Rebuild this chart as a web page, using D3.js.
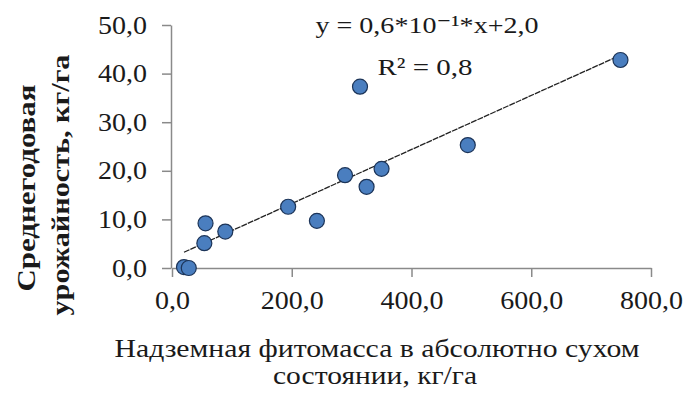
<!DOCTYPE html>
<html>
<head>
<meta charset="utf-8">
<script src="https://cdn.jsdelivr.net/npm/d3@7"></script>
<style>
  body { margin: 0; background: #fff; }
  text { font-family: "Liberation Serif", "DejaVu Serif", serif; fill: #1a1a1a; }
</style>
</head>
<body>
<div id="chart"></div>
<script>
// phytomass (kg/ha) vs average yield (kg/ha)
const phytomass = [20, 28, 54, 56, 89, 194, 242, 289, 314, 325, 350, 494, 749];
const yieldKg   = [0.2, 0.0, 5.1, 9.2, 7.5, 12.6, 9.7, 19.1, 37.3, 16.7, 20.4, 25.3, 42.8];
const xTicks = [0, 200, 400, 600, 800];
const yTicks = [0, 10, 20, 30, 40, 50];
const eqLine = "y = 0,6*10\u207B\u00B9*x+2,0";
const r2Line = "R\u00B2 = 0,8";
const xTitle = ["Надземная фитомасса в абсолютно сухом", "состоянии, кг/га"];
const yTitle = ["Среднегодовая", "урожайность, кг/га"];

const width = 686, height = 396;
const margin = {top: 25, right: 35, bottom: 128, left: 172};
const stretch = 1.12; // text in the picture is a bit wide

const svg = d3.select("#chart").append("svg")
  .attr("width", width)
  .attr("height", height);

const x = d3.scaleLinear().domain([0, 800]).range([margin.left, width - margin.right]);
const y = d3.scaleLinear().domain([0, 50]).range([height - margin.bottom, margin.top]);

const fmt = d3.formatLocale({decimal: ",", thousands: " ", grouping: [3], currency: ["", ""]}).format(".1f");

// x axis
const gx = svg.append("g")
  .attr("transform", `translate(0,${y(0)})`)
  .call(d3.axisBottom(x).tickValues(xTicks).tickFormat(fmt).tickSize(9).tickSizeOuter(0).tickPadding(14));

// y axis
const gy = svg.append("g")
  .attr("transform", `translate(${x(0) - 1},0)`)
  .call(d3.axisLeft(y).tickValues(yTicks).tickFormat(fmt).tickSize(9).tickSizeOuter(0).tickPadding(15));

[gx, gy].forEach(g => {
  g.select(".domain").attr("stroke", "#8a8a8a").attr("stroke-width", 1.5);
  g.selectAll(".tick line").attr("stroke", "#8a8a8a").attr("stroke-width", 1.5);
  g.selectAll(".tick text")
    .style("font-family", '"Liberation Serif", serif')
    .attr("font-size", 25)
    .attr("fill", "#1a1a1a");
});
gx.selectAll(".tick text").attr("transform", `scale(${stretch},1)`);
gy.selectAll(".tick text")
  .attr("x", -24 / stretch)
  .attr("transform", `scale(${stretch},1)`);

// linear trend from least squares
const mx = d3.mean(phytomass), my = d3.mean(yieldKg);
const slope = d3.sum(phytomass, (v, i) => (v - mx) * (yieldKg[i] - my)) /
              d3.sum(phytomass, v => (v - mx) * (v - mx));
const icpt = my - slope * mx;
const x0 = d3.min(phytomass), x1 = d3.max(phytomass);
svg.append("line")
  .attr("x1", x(x0)).attr("y1", y(slope * x0 + icpt))
  .attr("x2", x(x1)).attr("y2", y(slope * x1 + icpt))
  .attr("stroke", "#222")
  .attr("stroke-width", 1.3)
  .attr("stroke-dasharray", "6,1");

// points
svg.append("g")
  .selectAll("circle")
  .data(phytomass.map((v, i) => [v, yieldKg[i]]))
  .join("circle")
    .attr("cx", d => x(d[0]))
    .attr("cy", d => y(d[1]))
    .attr("r", 7.5)
    .attr("fill", "#4a7ebf")
    .attr("stroke", "#1c3458")
    .attr("stroke-width", 1.2);

// labels squeezed/stretched to the widths seen in the picture
function fitText(cx, cy, str, size, len, weight, rotate) {
  svg.append("text")
    .attr("transform", `translate(${cx},${cy})` + (rotate ? ` rotate(${rotate})` : ""))
    .attr("text-anchor", "middle")
    .attr("font-size", size)
    .attr("font-weight", weight || "normal")
    .attr("textLength", len)
    .attr("lengthAdjust", "spacingAndGlyphs")
    .text(str);
}
fitText(427, 33, eqLine, 24, 223);
fitText(425, 75, r2Line, 24, 95);

// axis titles
fitText(377, 357, xTitle[0], 25, 525);
fitText(375, 384, xTitle[1], 25, 204);
fitText(35, 188, yTitle[0], 26, 207, "bold", -90);
fitText(69, 185, yTitle[1], 26, 261, "bold", -90);
</script>
</body>
</html>
